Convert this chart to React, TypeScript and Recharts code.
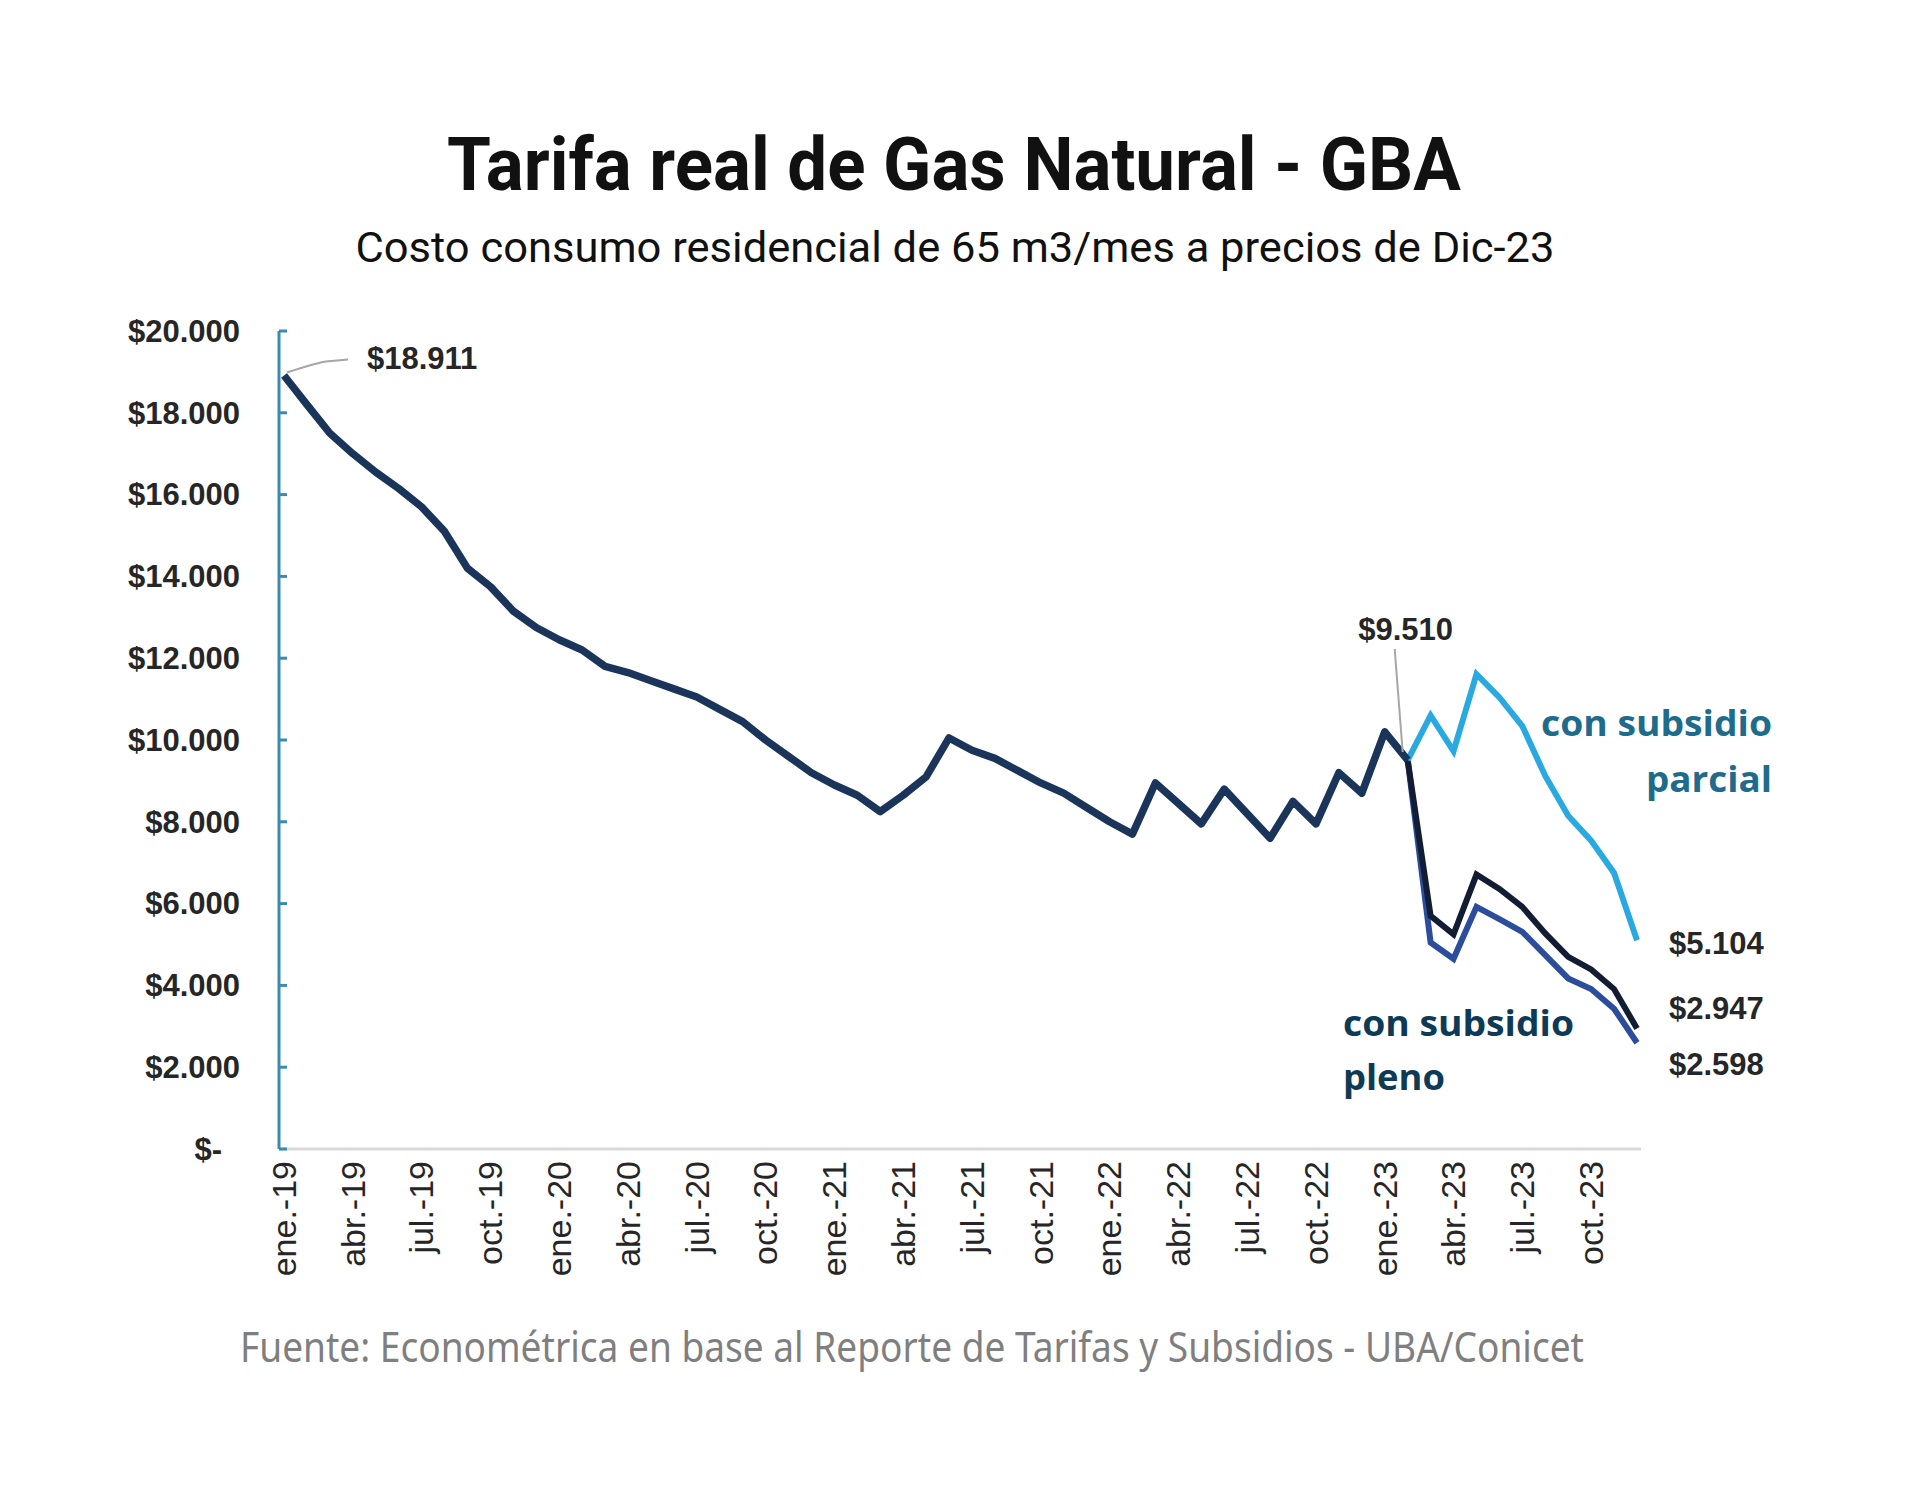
import React from "react";
import { LineChart, Line, XAxis, YAxis } from "recharts";

// Tarifa real de gas natural GBA, 65 m3/mes, pesos de dic-23
const meses = ["ene.", "feb.", "mar.", "abr.", "may.", "jun.", "jul.", "ago.", "sep.", "oct.", "nov.", "dic."];
const anios = ["19", "20", "21", "22", "23"];

// ene-19 .. feb-23 (serie común)
const tarifaBase = [
  18911, 18200, 17500, 17000, 16550, 16150, 15700, 15100, 14200, 13750, 13150, 12750,
  12450, 12200, 11800, 11650, 11450, 11250, 11050, 10750, 10450, 10000, 9600, 9200,
  8900, 8650, 8250, 8650, 9100, 10050, 9750, 9550, 9250, 8950, 8700, 8350,
  8000, 7700, 8950, 8450, 7950, 8800, 8200, 7600, 8500, 7950, 9200, 8700,
  10200, 9510,
];

// feb-23 .. dic-23
const INICIO_APERTURA = 49;
const tarifaSinSubsidio = [9510, 5700, 5250, 6710, 6360, 5920, 5270, 4700, 4390, 3910, 2947];
const tarifaPleno = [9510, 5050, 4650, 5920, 5620, 5310, 4740, 4170, 3910, 3430, 2598];
const tarifaParcial = [9510, 10600, 9730, 11610, 11040, 10340, 9120, 8150, 7540, 6750, 5104];

const yTicks = [0, 2000, 4000, 6000, 8000, 10000, 12000, 14000, 16000, 18000, 20000];

const categorias = anios.flatMap((a) => meses.map((m) => `${m}-${a}`));

const data = categorias.map((mes, i) => {
  const j = i - INICIO_APERTURA;
  return {
    mes,
    base: i < tarifaBase.length ? tarifaBase[i] : null,
    sinSub: j >= 0 ? tarifaSinSubsidio[j] : null,
    pleno: j >= 0 ? tarifaPleno[j] : null,
    parcial: j >= 0 ? tarifaParcial[j] : null,
  };
});

const LAST = categorias.length - 1;

function fmt(v: number): string {
  return "$" + String(Math.round(v)).replace(/\B(?=(\d{3})+(?!\d))/g, ".");
}

const tickFont = "'Liberation Sans', Arial, sans-serif";
const textColor = "#262626";

function YTick(props: any) {
  const { x, y, payload } = props;
  const v = payload.value as number;
  const label = v === 0 ? "$-" : fmt(v);
  return (
    <g>
      <line x1={x + 39} x2={x + 47} y1={y} y2={y} stroke="#3b8bb0" strokeWidth={3} />
      <text
        x={v === 0 ? x - 18 : x}
        y={y}
        dy="0.35em"
        textAnchor="end"
        fontFamily={tickFont}
        fontWeight={700}
        fontSize={31}
        fill={textColor}
      >
        {label}
      </text>
    </g>
  );
}

function XTick(props: any) {
  const { x, y, payload } = props;
  return (
    <text
      transform={`translate(${x},${y}) rotate(-90)`}
      dy="0.35em"
      textAnchor="end"
      fontFamily={tickFont}
      fontSize={34}
      fill={textColor}
    >
      {payload.value}
    </text>
  );
}

function baseDot(p: any) {
  const { cx, cy, index, value } = p;
  if (cx == null || cy == null) return <g key={`b${index}`} />;
  if (index === 0) {
    return (
      <g key="b0">
        <path
          d={`M${cx + 3},${cy - 3} Q${cx + 30},${cy - 12} ${cx + 42},${cy - 14} L${cx + 64},${cy - 16}`}
          fill="none"
          stroke="#a6a6a6"
          strokeWidth={2}
        />
        <text x={cx + 83} y={cy - 17} dy="0.35em" fontFamily={tickFont} fontWeight={700} fontSize={31} fill={textColor}>
          {fmt(value)}
        </text>
      </g>
    );
  }
  if (index === INICIO_APERTURA) {
    return (
      <g key="b49">
        <line x1={cx - 13} y1={cy - 111} x2={cx - 5} y2={cy - 8} stroke="#a6a6a6" strokeWidth={2} />
        <text x={cx - 2} y={cy - 131} dy="0.35em" textAnchor="middle" fontFamily={tickFont} fontWeight={700} fontSize={31} fill={textColor}>
          {fmt(value)}
        </text>
      </g>
    );
  }
  return <g key={`b${index}`} />;
}

function endDot(offset: number) {
  return (p: any) => {
    const { cx, cy, index, value } = p;
    if (cx == null || cy == null || index !== LAST) return <g key={`e${index}`} />;
    return (
      <text
        key={`e${index}`}
        x={cx + 32}
        y={cy + offset}
        dy="0.35em"
        fontFamily={tickFont}
        fontWeight={700}
        fontSize={31}
        fill={textColor}
      >
        {fmt(value)}
      </text>
    );
  };
}

export default function App() {
  return (
    <div style={{ position: "absolute", left: 0, top: 0, width: 1920, height: 1488, background: "#fff" }}>
      <LineChart
        width={1920}
        height={1488}
        data={data}
        margin={{ top: 331, right: 279, bottom: 189, left: 79 }}
      >
        <XAxis
          dataKey="mes"
          interval={2}
          height={150}
          tickLine={false}
          tickSize={0}
          tickMargin={12}
          axisLine={{ stroke: "#d9d9d9", strokeWidth: 3 }}
          padding={{ left: 5, right: 4 }}
          tick={<XTick />}
        />
        <YAxis
          width={200}
          domain={[0, 20000]}
          ticks={yTicks}
          tickLine={false}
          tickSize={0}
          tickMargin={39}
          axisLine={{ stroke: "#3b8bb0", strokeWidth: 3 }}
          tick={<YTick />}
        />
        <Line
          type="linear"
          dataKey="pleno"
          stroke="#2b4d9c"
          strokeWidth={6}
          dot={endDot(21)}
          activeDot={false}
          isAnimationActive={false}
        />
        <Line
          type="linear"
          dataKey="sinSub"
          stroke="#121c33"
          strokeWidth={6}
          dot={endDot(-20)}
          activeDot={false}
          isAnimationActive={false}
        />
        <Line
          type="linear"
          dataKey="parcial"
          stroke="#2aa9e0"
          strokeWidth={6}
          dot={endDot(3)}
          activeDot={false}
          isAnimationActive={false}
        />
        <Line
          type="linear"
          dataKey="base"
          stroke="#1b355a"
          strokeWidth={7.5}
          strokeLinejoin="round"
          dot={baseDot}
          activeDot={false}
          isAnimationActive={false}
        />
      </LineChart>

      <svg
        width={1920}
        height={1488}
        style={{ position: "absolute", left: 0, top: 0, pointerEvents: "none" }}
      >
        <text
          x={954}
          y={190}
          textAnchor="middle"
          fontFamily="Roboto, sans-serif"
          fontWeight={700}
          fontSize={74}
          fill="#111"
          textLength={1014}
          lengthAdjust="spacingAndGlyphs"
        >
          Tarifa real de Gas Natural - GBA
        </text>
        <text
          x={955}
          y={262}
          textAnchor="middle"
          fontFamily="Roboto, sans-serif"
          fontSize={42}
          fill="#111"
          textLength={1199}
          lengthAdjust="spacingAndGlyphs"
        >
          Costo consumo residencial de 65 m3/mes a precios de Dic-23
        </text>

        <g fontFamily="'Open Sans', sans-serif" fontWeight={700} fontSize={35}>
          <text x={1772} y={736} textAnchor="end" fill="#1e6b8c" textLength={231} lengthAdjust="spacingAndGlyphs">
            con subsidio
          </text>
          <text x={1772} y={792} textAnchor="end" fill="#1e6b8c" textLength={126} lengthAdjust="spacingAndGlyphs">
            parcial
          </text>
          <text x={1343} y={1036} fill="#0e3a55" textLength={231} lengthAdjust="spacingAndGlyphs">
            con subsidio
          </text>
          <text x={1343} y={1090} fill="#0e3a55" textLength={102} lengthAdjust="spacingAndGlyphs">
            pleno
          </text>
        </g>

        <text
          x={912}
          y={1362}
          textAnchor="middle"
          fontFamily="'Noto Sans', sans-serif"
          fontSize={42}
          fill="#7f7f7f"
          textLength={1344}
          lengthAdjust="spacingAndGlyphs"
        >
          Fuente: Econométrica en base al Reporte de Tarifas y Subsidios  - UBA/Conicet
        </text>
      </svg>
    </div>
  );
}
